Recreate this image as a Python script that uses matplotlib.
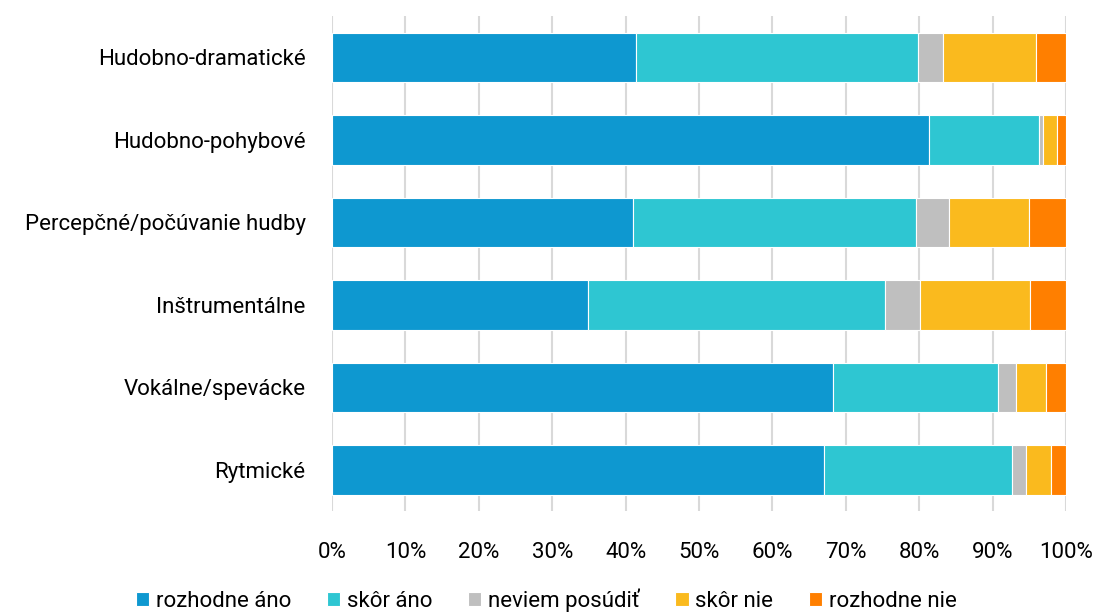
import numpy as np
import matplotlib
matplotlib.use("Agg")
import matplotlib.pyplot as plt

plt.rcParams['font.family'] = ['Roboto', 'DejaVu Sans']

categories = ['Hudobno-dramatické', 'Hudobno-pohybové', 'Percepčné/počúvanie hudby',
              'Inštrumentálne', 'Vokálne/spevácke', 'Rytmické']
series_names = ['rozhodne áno', 'skôr áno', 'neviem posúdiť', 'skôr nie', 'rozhodne nie']
colors = ['#0E98D0', '#2EC6D2', '#BFBFBF', '#FABA1E', '#FF7F00']

rozhodne_ano = [41.4, 81.4, 41.0, 34.9, 68.2, 67.0]
skor_ano = [38.5, 14.9, 38.5, 40.5, 22.5, 25.6]
neviem = [3.4, 0.6, 4.5, 4.7, 2.5, 1.9]
skor_nie = [12.6, 1.9, 10.9, 15.0, 4.1, 3.5]
rozhodne_nie = [4.1, 1.2, 5.1, 4.9, 2.7, 2.0]

data = np.array([rozhodne_ano, skor_ano, neviem, skor_nie, rozhodne_nie])
data = data / data.sum(axis=0) * 100

fig = plt.figure(figsize=(10.97, 6.15), dpi=100)
ax = fig.add_axes([332 / 1097, 1 - 511 / 615, 734 / 1097, 495 / 615])

y = np.arange(len(categories))
left = np.zeros(len(categories))
for vals, name, c in zip(data, series_names, colors):
    ax.barh(y, vals, left=left, height=0.6, color=c, edgecolor='white', linewidth=0.8,
            label=name, zorder=3)
    left += vals

ax.set_xlim(0, 100)
ax.set_ylim(len(categories) - 0.5, -0.5)
ax.set_xticks(np.arange(0, 101, 10))
ax.set_xticklabels([f'{v}%' for v in range(0, 101, 10)])
ax.set_yticks(y)
ax.set_yticklabels(categories)
ax.grid(axis='x', color='#D9D9D9', linewidth=1.5, zorder=0)
for s in ax.spines.values():
    s.set_visible(False)
ax.tick_params(length=0, labelsize=16, colors='black')
ax.tick_params(axis='x', pad=22)
ax.tick_params(axis='y', pad=19)

ax.legend(loc='center', bbox_to_anchor=(0.292, -0.18), ncol=5, frameon=False,
          fontsize=16, handlelength=0.6, handleheight=0.6, handletextpad=0.3,
          columnspacing=1.6, borderaxespad=0)

fig.savefig('out.png', dpi=100)
